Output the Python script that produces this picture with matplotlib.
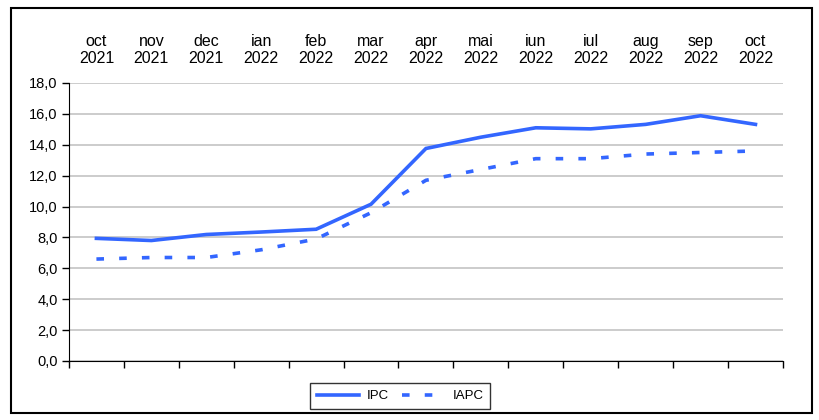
import matplotlib as mpl
mpl.use('Agg')
import matplotlib.pyplot as plt
from matplotlib.patches import Rectangle
from matplotlib.ticker import FuncFormatter

luni = ["oct\n2021", "nov\n2021", "dec\n2021", "ian\n2022", "feb\n2022", "mar\n2022",
        "apr\n2022", "mai\n2022", "iun\n2022", "iul\n2022", "aug\n2022", "sep\n2022", "oct\n2022"]
ipc = [7.94, 7.80, 8.19, 8.35, 8.53, 10.15, 13.76, 14.49, 15.10, 15.03, 15.32, 15.88, 15.32]
iapc = [6.6, 6.7, 6.7, 7.2, 7.9, 9.6, 11.7, 12.4, 13.1, 13.1, 13.4, 13.5, 13.6]

albastru = '#3366ff'
plt.rcParams['font.family'] = ['Liberation Sans', 'DejaVu Sans']

fig = plt.figure(figsize=(8.2, 4.2), dpi=100)
ax = fig.add_axes([0.0841, 0.1405, 0.8707, 0.6619])

x = [i + 0.5 for i in range(len(luni))]
ax.plot(x, ipc, color=albastru, lw=2.6, label='IPC', solid_joinstyle='miter')
ax.plot(x, iapc, color=albastru, lw=2.6, dashes=(2.1, 4.2), dash_capstyle='butt', label='IAPC')

ax.set_xlim(0, len(luni))
ax.set_ylim(0, 18)
ax.set_yticks(range(0, 19, 2))
ax.yaxis.set_major_formatter(FuncFormatter(lambda v, p: f"{v:.1f}".replace('.', ',')))
ax.grid(axis='y', color='#c8c8c8', lw=1.3)
ax.set_axisbelow(True)

ax.set_xticks(x)
ax.set_xticklabels(luni, linespacing=1.2)
ax.set_xticks(range(len(luni) + 1), minor=True)
ax.tick_params(axis='x', which='major', bottom=False, top=False, length=0, labelbottom=False,
               labeltop=True, labelsize=11.5, pad=12)
ax.tick_params(axis='x', which='minor', bottom=True, direction='out', length=5, width=1)
ax.tick_params(axis='y', direction='out', length=5, width=1, labelsize=10.5, pad=3)

for s in ['top', 'right']:
    ax.spines[s].set_visible(False)
ax.spines['left'].set_color('black')
ax.spines['bottom'].set_color('black')

fig.add_artist(Rectangle((11 / 820, 7 / 420), 801 / 820, 405 / 420, transform=fig.transFigure,
                         fill=False, edgecolor='black', lw=1.5))

leg = fig.legend(loc='center', bbox_to_anchor=(0.488, 0.057), ncol=2, fontsize=9.5,
                 frameon=True, fancybox=False, edgecolor='black', handlelength=3.2,
                 columnspacing=1.0, handletextpad=0.6, borderpad=0.5)
leg.get_frame().set_linewidth(1.0)

fig.savefig('out.png', dpi=100)
